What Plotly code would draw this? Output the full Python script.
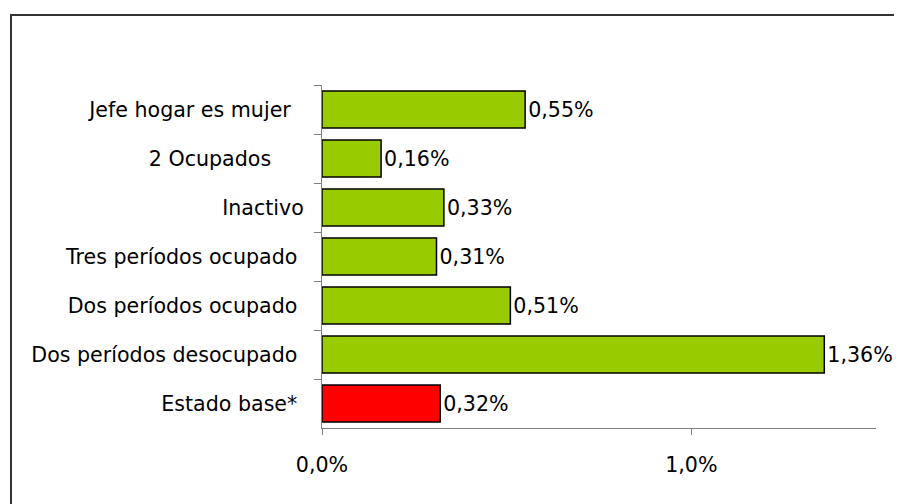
import plotly.graph_objects as go

categories = ["Jefe hogar es mujer", "2 Ocupados", "Inactivo", "Tres períodos ocupado",
              "Dos períodos ocupado", "Dos períodos desocupado", "Estado base*"]
values = [0.55, 0.16, 0.33, 0.31, 0.51, 1.36, 0.32]
bar_colors = ["#99CC00"] * 6 + ["#FF0000"]
trailing = [2, 5, 0, 1, 1, 1, 1]  # trailing spaces seen in the original labels
x_ticks = [0, 1]
x_tick_labels = ["0,0%", "1,0%"]

labels = [c + "\u00a0" * n for c, n in zip(categories, trailing)]
value_text = [("%.2f%%" % v).replace(".", ",") for v in values]

# page places the figure at an 8px body offset
W, H = 894, 496
L, R, T, B = 314, 26, 77, 76
pw, ph = W - L - R, H - T - B
FS = 20.6

fig = go.Figure(go.Bar(
    x=values, y=labels, orientation="h",
    marker=dict(color=bar_colors, line=dict(color="#000000", width=1.5)),
    text=value_text, textposition="outside", cliponaxis=False,
    textfont=dict(family="DejaVu Sans", size=FS, color="#000000"),
))

fig.update_layout(
    width=W, height=H, margin=dict(l=L, r=R, t=T, b=B),
    paper_bgcolor="white", plot_bgcolor="white",
    font=dict(family="DejaVu Sans", size=FS, color="#000000"),
    separators=",.", bargap=0.245, showlegend=False,
    xaxis=dict(range=[0, 1.5], tickvals=x_ticks, ticktext=x_tick_labels,
               showgrid=False, zeroline=False, showline=True, linecolor="#808080",
               linewidth=1, ticks="outside", ticklen=6, tickcolor="#808080",
               ticklabelstandoff=12),
    yaxis=dict(autorange="reversed", showgrid=False, zeroline=False, showline=True,
               linecolor="#808080", linewidth=1, ticks="outside", ticklen=7,
               tickcolor="#808080", tickson="boundaries", ticklabelstandoff=13),
    shapes=[dict(type="rect", xref="paper", yref="paper",
                 x0=(3 - L) / pw, x1=(905 - L) / pw,
                 y0=(H - B - 510) / ph, y1=(H - B - 7) / ph,
                 line=dict(color="#333333", width=2), fillcolor="rgba(0,0,0,0)")],
)

fig.write_html("out.html")
